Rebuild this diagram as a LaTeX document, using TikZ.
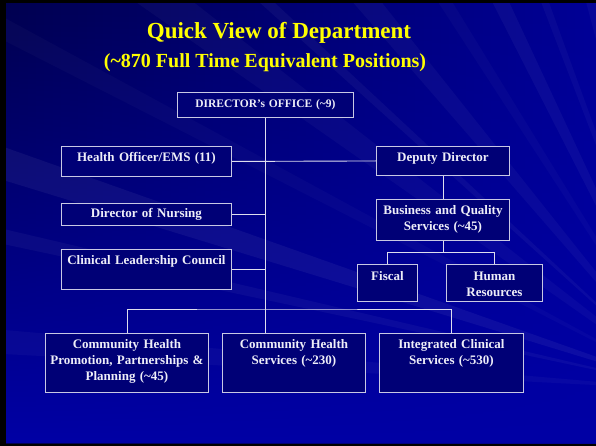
\documentclass[tikz,border=0pt]{standalone}
\usepackage{fontspec}
\setmainfont{Liberation Serif}
\usetikzlibrary{fadings}
\definecolor{slidedark}{RGB}{0,0,80}
\definecolor{slidemid}{RGB}{0,0,150}
\definecolor{slidebright}{RGB}{0,0,165}
\definecolor{boxfill}{RGB}{0,0,118}
\definecolor{boxline}{RGB}{200,200,228}
\definecolor{linkline}{RGB}{222,222,238}
\definecolor{boxtext}{RGB}{238,238,248}
\definecolor{titleyellow}{RGB}{255,255,0}

\begin{document}
\begin{tikzpicture}[x=1pt,y=-1pt,
  orgbox/.style 2 args={draw=boxline, line width=0.9pt, fill=boxfill, inner sep=0pt,
    anchor=north west, align=center, text=boxtext,
    font=\bfseries\fontsize{13}{16}\selectfont,
    text height=15.5pt, text width=#1pt, text depth=#2pt},
  link/.style={draw=linkline, line width=0.9pt},
  heading/.style={anchor=base, text=titleyellow, inner sep=0pt}]
\useasboundingbox (0,0) rectangle (596,446);
\fill[black] (0,0) rectangle (596,446);
\shade[left color=slidedark, right color=slidemid] (6,4) rectangle (596,443);
\fill[slidebright, path fading=north] (6,4) rectangle (596,443);
\begin{scope}
\clip (6,4) rectangle (596,443);
\foreach \a/\w/\o in {183/2/0.03,192/1.2/0.04,197/2.5/0.05,207/1.5/0.025,215/3/0.03,222/1/0.04,229/2.5/0.035,237/1.5/0.025,243/2/0.04,249/1/0.03,255/2.5/0.03}
  \fill[white, opacity=\o] (690,390) -- +(\a:950) -- +(\a+\w:950) -- cycle;
\end{scope}

\node[heading, font=\bfseries\fontsize{23}{28}\selectfont] (title) at (279,39) {Quick View of Department};
\node[heading, font=\bfseries\fontsize{20}{24}\selectfont] (subtitle) at (265,68) {(\textasciitilde870 Full Time Equivalent Positions)};

\node[orgbox={176}{10}, font=\bfseries\fontsize{11.5}{14}\selectfont, text height=15pt] (dir) at (177,92) {DIRECTOR's OFFICE (\textasciitilde9)};
\node[orgbox={170}{14.5}] (hoems) at (61,146) {Health Officer/EMS (11)};
\node[orgbox={170}{8}, text height=14pt] (nursing) at (61,203) {Director of Nursing};
\node[orgbox={170}{24.5}] (clc) at (61,249) {Clinical Leadership Council};
\node[orgbox={133}{13.5}] (deputy) at (376,146) {Deputy Director};
\node[orgbox={133}{25.5}] (bqs) at (376,199) {Business and Quality\\Services (\textasciitilde45)};
\node[orgbox={60}{21}, text height=16pt] (fiscal) at (357,264) {Fiscal};
\node[orgbox={96}{21}, text height=16pt] (hr) at (446,264) {Human\\Resources};
\node[orgbox={163}{44}, text height=15pt] (chpp) at (45,333) {Community Health\\Promotion, Partnerships \&\\Planning (\textasciitilde45)};
\node[orgbox={143}{44}, text height=15pt] (chs) at (222,333) {Community Health\\Services (\textasciitilde230)};
\node[orgbox={144}{44}, text height=15pt] (ics) at (379,333) {Integrated Clinical\\Services (\textasciitilde530)};

\draw[link] (dir.south) -- (dir.south |- chs.north);
\draw[link] (hoems.east) -- (deputy.west);
\draw[link] (nursing.east) -- (nursing.east -| dir.south);
\draw[link] (clc.east) -- (clc.east -| dir.south);
\draw[link] (deputy.south) -- (bqs.north);
\draw[link] (bqs.south) -- ++(0,12) coordinate (bqsfork);
\draw[link] (fiscal.north) |- (bqsfork) -| (hr.north);
\coordinate (bus) at (265,309);
\draw[link] (chpp.north) |- (bus) -| (ics.north);
\end{tikzpicture}
\end{document}
